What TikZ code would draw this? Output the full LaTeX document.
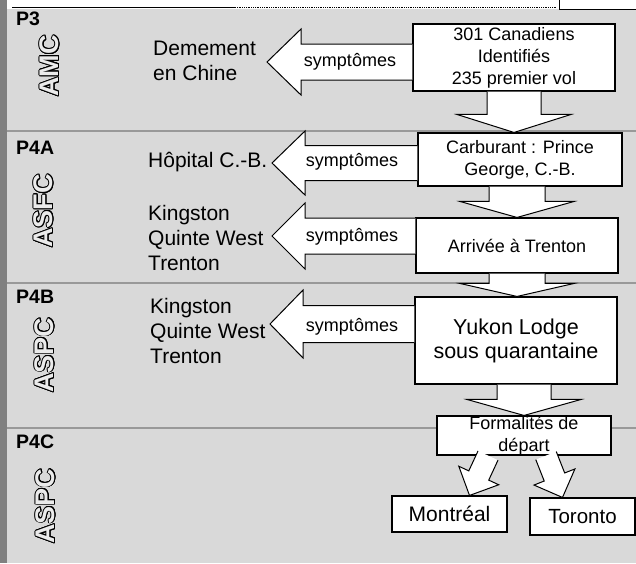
\documentclass[tikz,border=0pt]{standalone}
\usepackage{fontspec}
\setmainfont{Liberation Sans}
\usepackage[copies]{contour}
\usetikzlibrary{calc}
\contourlength{0.9pt}

% block arrow: from, tip, half shaft, half head, head length
\newcommand{\blockarr}[5]{%
  \coordinate (ha) at ($(#2)!#5!(#1)$);
  \draw[blk] ($(#1)!#3!90:(#2)$) -- ($(ha)!#3!90:(#2)$) -- ($(ha)!#4!90:(#2)$) -- (#2)
    -- ($(ha)!#4!-90:(#2)$) -- ($(ha)!#3!-90:(#2)$) -- ($(#1)!#3!-90:(#2)$);
}

\begin{document}
\begin{tikzpicture}[x=1pt,y=-1pt]
\tikzstyle{box}=[draw,fill=white,line width=1.1pt,inner sep=0pt,align=center,font=\fontsize{18}{22}\selectfont]
\tikzstyle{blk}=[draw,fill=white,line width=1pt,line join=miter]
\tikzstyle{place}=[inner sep=0pt,align=left,anchor=west,font=\fontsize{21}{25}\selectfont]
\tikzstyle{symp}=[inner sep=0pt,font=\fontsize{18}{22}\selectfont]
\tikzstyle{phase}=[inner sep=0pt,anchor=west,font=\fontsize{19.5}{22}\selectfont\bfseries]
\tikzstyle{agency}=[inner sep=0pt,rotate=90,font=\fontsize{27}{30}\selectfont\bfseries]
\tikzstyle{sep}=[draw=black!40,line width=1.5pt]
\newcommand{\hollow}[1]{\contour{black}{\textcolor{black!8}{#1}}}

\useasboundingbox (0,0) rectangle (636,563);
% fond et bandes
\fill[black!15] (0,0) rectangle (636,563);
\fill[white] (0,0) rectangle (636,9);
\draw[line width=0.6pt] (12,7) -- (235,7);
\draw[line width=0.8pt,densely dotted] (235,7) -- (557,7);
\draw[line width=0.6pt,fill=white] (559,-2) rectangle (640,9);
\fill[black!50] (0,0) rectangle (7,563);
\draw[sep] (7,131) -- (636,131);
\draw[sep] (7,283) -- (636,283);
\draw[sep] (7,428) -- (636,428);

\node[phase] (P3) at (16,19) {P3};
\node[phase] (P4A) at (16,148) {P4A};
\node[phase] (P4B) at (16,297) {P4B};
\node[phase] (P4C) at (16,442) {P4C};
\node[agency] (amc) at (50,66) {\hollow{AMC}};
\node[agency] (asfc) at (44,211) {\hollow{ASFC}};
\node[agency] (aspc1) at (45,355) {\hollow{ASPC}};
\node[agency] (aspc2) at (46,506) {\hollow{ASPC}};

% etapes
\node[box,minimum width=202,minimum height=67] (B1) at (514,57.5) {301 Canadiens\\Identifiés\\235 premier vol};
\node[box,minimum width=204,minimum height=53] (B2) at (520,159.5) {Carburant : Prince\\George, C.-B.};
\node[box,minimum width=202,minimum height=55] (B3) at (517,245.5) {Arrivée à Trenton};
\node[box,minimum width=202,minimum height=87,font=\fontsize{21.5}{24}\selectfont] (B4) at (516,340.5) {Yukon Lodge\\sous quarantaine};
\node[box,minimum width=174,minimum height=39] (B5) at (524,435.5) {Formalités de\\départ};
\node[box,minimum width=115,minimum height=36,font=\fontsize{21}{24}\selectfont] (B6) at (449.5,514) {Montréal};
\node[box,minimum width=105,minimum height=37,font=\fontsize{20.5}{24}\selectfont] (B7) at (582.5,516.5) {Toronto};

\node[place] (dem) at (153,61) {Demement\\en Chine};
\node[place] (hop) at (148,162) {Hôpital C.-B.};
\node[place] (kin1) at (148,238) {Kingston\\Quinte West\\Trenton};
\node[place] (kin2) at (150,331) {Kingston\\Quinte West\\Trenton};

\coordinate (t1) at (267,62);
\coordinate (t2) at (272,163);
\coordinate (t3) at (272,236);
\coordinate (t4) at (270,324);
\coordinate (m1) at ($(B5.south)+(-36,0)$);
\coordinate (m2) at ($(B5.south)+(22,0)$);
\coordinate (n1) at ($(B6.north)+(20,0)$);
\coordinate (n2) at ($(B7.north)+(-20,0)$);

% fleches
\blockarr{B1.west |- t1}{t1}{18pt}{33pt}{34pt}
\blockarr{B2.west |- t2}{t2}{17.5pt}{32pt}{33pt}
\blockarr{B3.west |- t3}{t3}{18pt}{33pt}{33pt}
\blockarr{B4.west |- t4}{t4}{18.5pt}{34pt}{33pt}
\blockarr{B1.south}{B1.south |- B2.north}{27pt}{57pt}{18pt}
\blockarr{B3.north |- B2.south}{B3.north}{28pt}{57pt}{16pt}
\blockarr{B3.south}{B3.south |- B4.north}{28pt}{57pt}{13pt}
\blockarr{B5.north |- B4.south}{B5.north}{27pt}{57pt}{16pt}
\blockarr{m1}{n1}{11pt}{22pt}{22pt}
\blockarr{m2}{n2}{11pt}{22pt}{22pt}

\node[symp] (s1) at (350,62) {symptômes};
\node[symp] (s2) at (352,162) {symptômes};
\node[symp] (s3) at (352,237) {symptômes};
\node[symp] (s4) at (352,327) {symptômes};
\end{tikzpicture}
\end{document}
